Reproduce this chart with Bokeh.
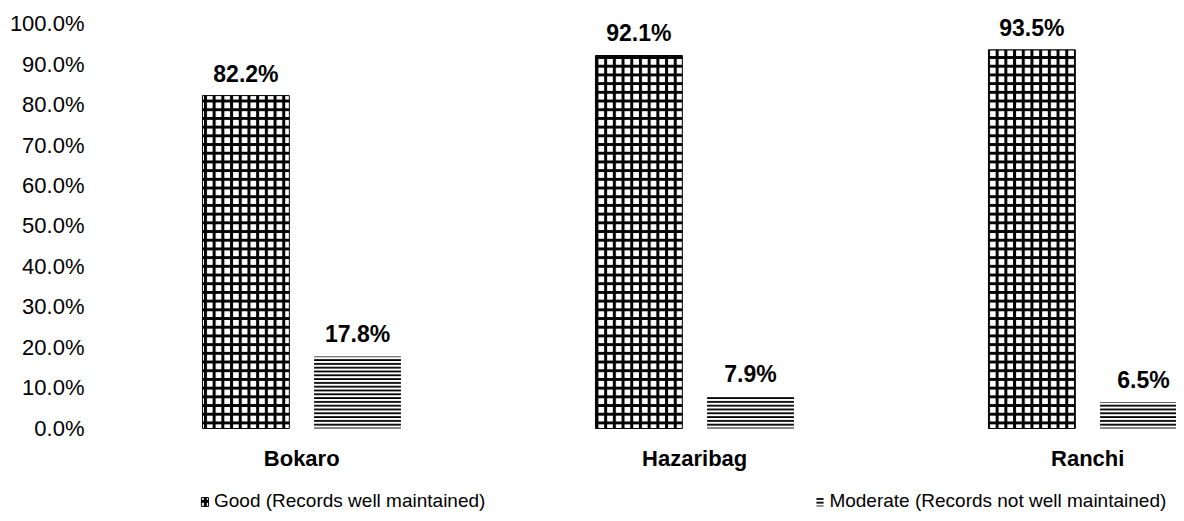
from bokeh.plotting import figure
from bokeh.models import (ColumnDataSource, Range1d, FixedTicker, PrintfTickFormatter,
                          Legend, LegendItem)
from bokeh.transform import dodge
from bokeh.core.properties import value
from bokeh.embed import file_html
from bokeh.resources import INLINE

districts = ["Bokaro", "Hazaribag", "Ranchi"]
good = [82.2, 92.1, 93.5]
moderate = [17.8, 7.9, 6.5]
series_names = ["Good (Records well maintained)", "Moderate (Records not well maintained)"]
y_ticks = [0, 10, 20, 30, 40, 50, 60, 70, 80, 90, 100]

FONT = "Liberation Sans"

src = ColumnDataSource(dict(
    x=list(range(len(districts))),
    zero=[0] * len(districts),
    name=districts,
    good=good,
    moderate=moderate,
    good_lbl=[f"{v:.1f}%" for v in good],
    mod_lbl=[f"{v:.1f}%" for v in moderate],
))

p = figure(width=1176, height=513,
           x_range=Range1d(-0.512, 2.226), y_range=Range1d(-20.99, 105.68),
           output_backend="svg", toolbar_location=None, x_axis_location=None,
           min_border_left=100, min_border_right=0, min_border_top=0,
           min_border_bottom=0)
p.outline_line_color = None
p.xgrid.visible = False
p.ygrid.visible = False

BW = 0.221
OFF = 0.142

r_good = p.vbar(x=dodge("x", -OFF), top="good", bottom=0, width=BW, source=src,
                fill_color="white", line_color="black", line_width=1,
                hatch_pattern="+", hatch_color="black", hatch_weight=3, hatch_scale=8.7)
r_mod = p.vbar(x=dodge("x", OFF), top="moderate", bottom=0, width=BW, source=src,
               fill_color="white", line_color=None,
               hatch_pattern="-", hatch_color="black", hatch_weight=1.8, hatch_scale=3.8)

p.text(x=dodge("x", -OFF), y="good", text="good_lbl", source=src,
       text_align="center", text_baseline="bottom", y_offset=-9,
       text_font=value(FONT), text_font_style="bold", text_font_size="23px",
       text_color="black")
p.text(x=dodge("x", OFF), y="moderate", text="mod_lbl", source=src,
       text_align="center", text_baseline="bottom", y_offset=-9,
       text_font=value(FONT), text_font_style="bold", text_font_size="23px",
       text_color="black")

# category labels under each group
p.text(x="x", y="zero", text="name", source=src,
       text_align="center", text_baseline="middle", y_offset=30,
       text_font=value(FONT), text_font_style="bold", text_font_size="22px",
       text_color="black")

# y axis
p.yaxis.ticker = FixedTicker(ticks=y_ticks)
p.yaxis.formatter = PrintfTickFormatter(format="%.1f%%")
p.yaxis.axis_line_color = None
p.yaxis.major_tick_line_color = None
p.yaxis.minor_tick_line_color = None
p.yaxis.major_label_standoff = 10
p.yaxis.major_label_text_font = FONT
p.yaxis.major_label_text_font_size = "22px"
p.yaxis.major_label_text_color = "black"

legend = Legend(items=[LegendItem(label=series_names[0], renderers=[r_good]),
                       LegendItem(label=series_names[1], renderers=[r_mod])],
                orientation="horizontal", location=(100, 1),
                spacing=330, margin=0, padding=0,
                glyph_width=9, glyph_height=11, label_standoff=5,
                label_text_font=FONT, label_text_font_size="19px",
                label_text_color="black",
                border_line_color=None, background_fill_alpha=0)
p.add_layout(legend, "center")

open("out.html", "w").write(file_html(p, INLINE))
